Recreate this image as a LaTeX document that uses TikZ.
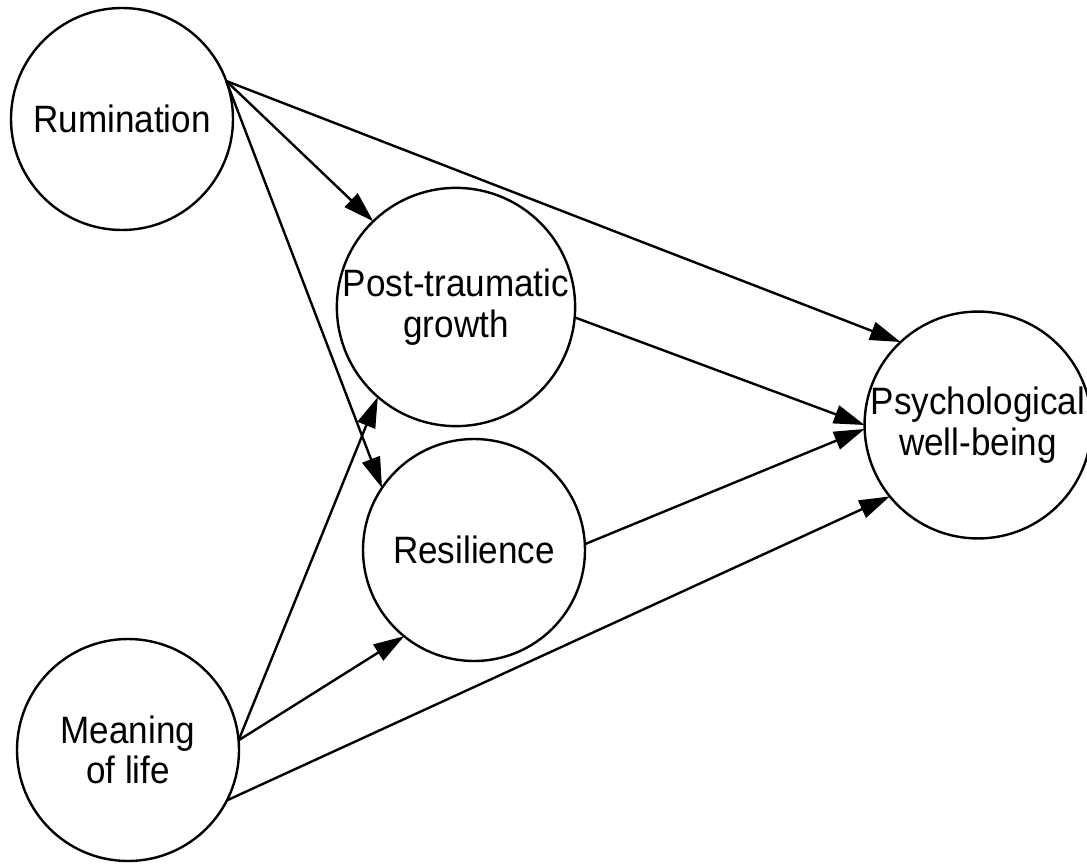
\documentclass[tikz,border=0pt]{standalone}
\usepackage{fontspec}
\setmainfont{Liberation Sans}[FakeStretch=0.92]
\usetikzlibrary{arrows.meta}
\begin{document}
\begin{tikzpicture}[x=0.75pt,y=-0.75pt,
  var/.style={circle,draw,line width=1.8pt,minimum size=166.5pt,inner sep=0pt,outer sep=0pt,align=center,font=\fontsize{28.6}{30.5}\selectfont},
  link/.style={draw,line width=1.8pt,-{Triangle[length=23pt,width=14pt]}}]
\useasboundingbox (0,0) rectangle (1087,863);
\node[var] (rum) at (122,119) {Rumination};
\node[var] (ptg) at (456,307) {Post-traumatic\\growth};
\node[var] (res) at (474,550) {Resilience};
\node[var] (mol) at (128,750) {Meaning\\of life};
\node[var] (pwb) at (978,425) {Psychological\\well-being};
\draw[link] (rum.20) -- (ptg.134);
\draw[link] (rum.20) -- (res.146.5);
\draw[link] (rum.20) -- (pwb.133);
\draw[link] (ptg.-5) -- (pwb.180);
\draw[link] (res.3.5) -- (pwb.182.5);
\draw[link] (mol.5) -- (ptg.229);
\draw[link] (mol.5) -- (res.231);
\draw[link] (mol.-27) -- (pwb.219.5);
\end{tikzpicture}
\end{document}
